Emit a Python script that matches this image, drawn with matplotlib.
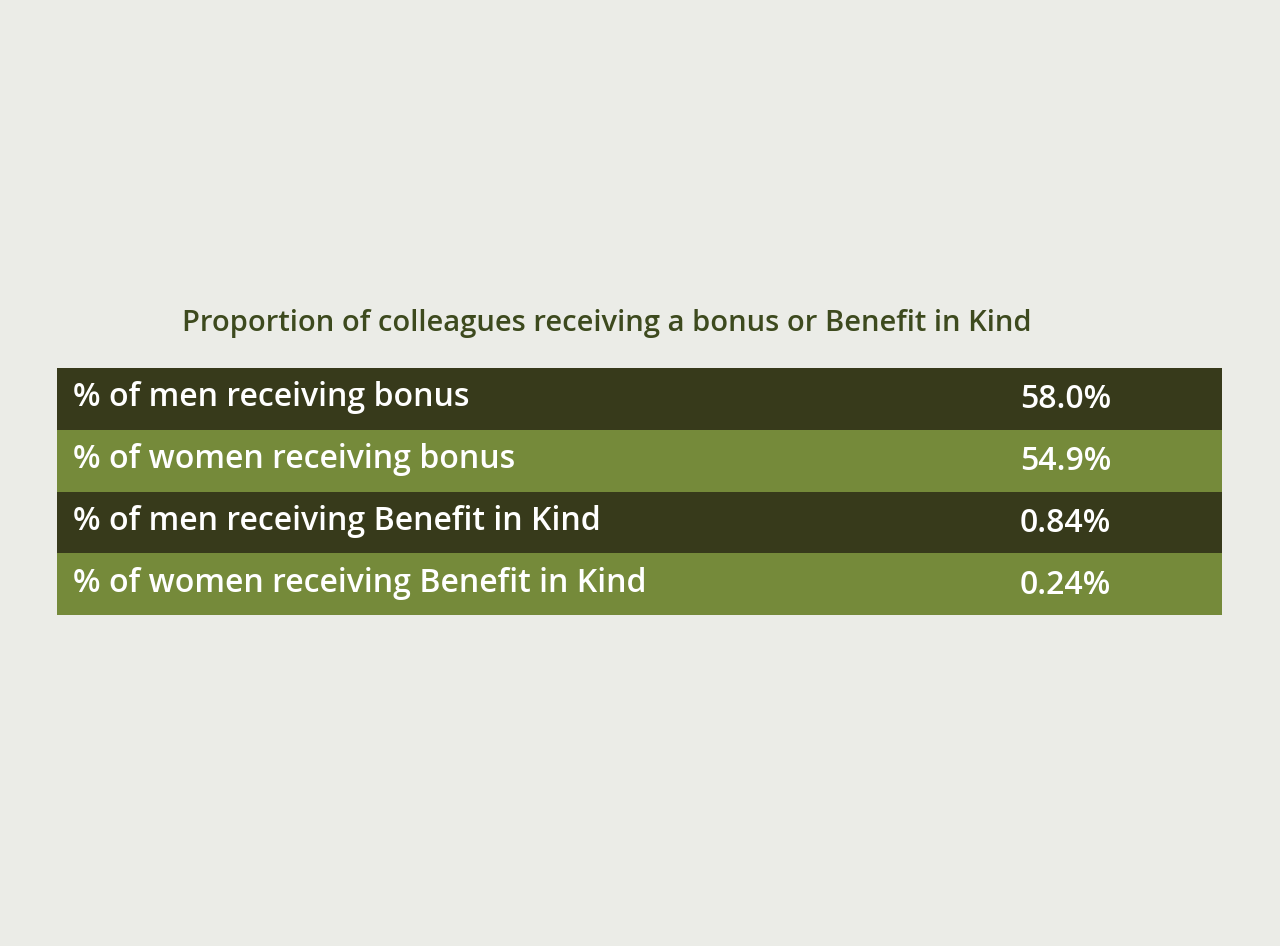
import matplotlib
matplotlib.use("Agg")
import matplotlib.pyplot as plt
from matplotlib.patches import Rectangle

title = "Proportion of colleagues receiving a bonus or Benefit in Kind"
labels = ["% of men receiving bonus", "% of women receiving bonus",
          "% of men receiving Benefit in Kind", "% of women receiving Benefit in Kind"]
values = ["58.0%", "54.9%", "0.84%", "0.24%"]
row_colors = ["#373A1B", "#758A3A", "#373A1B", "#758A3A"]

fig = plt.figure(figsize=(12.8, 9.46), dpi=100)
fig.patch.set_facecolor("#EBECE7")
ax = fig.add_axes([0, 0, 1, 1])
ax.set_xlim(0, 1280)
ax.set_ylim(946, 0)
ax.axis("off")

top, h, left, width = 368, 61.75, 57, 1165
for i, (lab, val, c) in enumerate(zip(labels, values, row_colors)):
    y = top + i * h
    ax.add_patch(Rectangle((left, y), width, h, facecolor=c, edgecolor="none"))
    ax.text(73, y + h / 2 - 1, lab, color="white", fontsize=23, fontfamily="Open Sans",
            fontweight="semibold", va="center", ha="left")
    ax.text(1020, y + h / 2 + 1, val, color="white", fontsize=23, fontfamily="Open Sans",
            fontweight="semibold", va="center", ha="left")

ax.text(607, 323, title, color="#3D4A1E", fontsize=21, fontfamily="Open Sans",
        fontweight="semibold", va="center", ha="center")

fig.savefig("out.png", dpi=100, facecolor=fig.get_facecolor())
